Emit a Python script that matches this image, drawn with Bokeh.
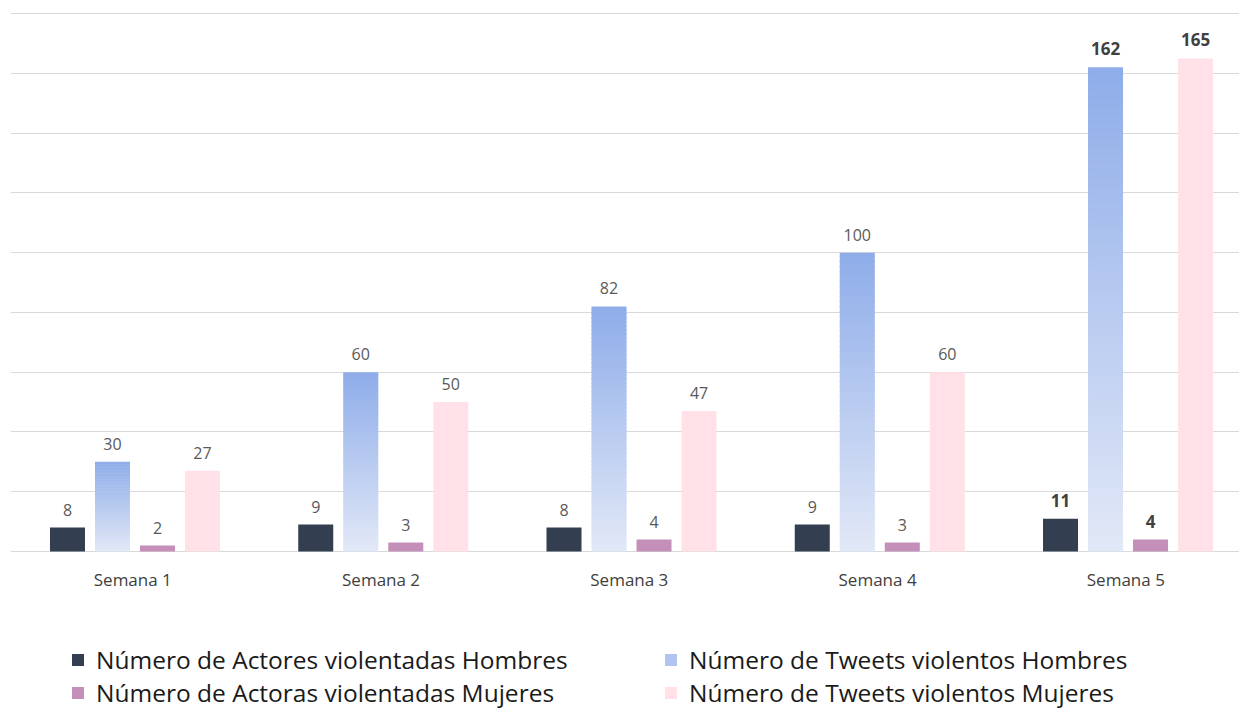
import numpy as np
from bokeh.plotting import figure
from bokeh.models import ColumnDataSource, FixedTicker, Range1d, Legend, LegendItem
from bokeh.embed import file_html
from bokeh.resources import INLINE
from bokeh.core.properties import value

weeks = ["Semana  1", "Semana  2", "Semana  3", "Semana  4", "Semana  5"]
actores_hombres = [8, 9, 8, 9, 11]
tweets_hombres = [30, 60, 82, 100, 162]
actoras_mujeres = [2, 3, 4, 3, 4]
tweets_mujeres = [27, 50, 47, 60, 165]
bold_week = [False, False, False, False, True]

series_names = [
    "Número de Actores violentadas Hombres",
    "Número de Tweets violentos Hombres",
    "Número de Actoras violentadas Mujeres",
    "Número de Tweets violentos Mujeres",
]
series_values = [actores_hombres, tweets_hombres, actoras_mujeres, tweets_mujeres]
series_colors = ["#333f50", None, "#c48fb9", "#ffe1e7"]
grad_top = (0x8e, 0xad, 0xe9)
grad_bottom = (0xe2, 0xe8, 0xf7)

step = 0.1813
bar_w = 0.141
offsets = [-1.5 * step, -0.5 * step, 0.5 * step, 1.5 * step]
xs = np.arange(len(weeks))

# frame spans the whole lower area so the legend can live inside it
p = figure(width=1239, height=710, output_backend="svg", toolbar_location=None,
           x_range=Range1d(-0.5015, 4.449), y_range=Range1d(-53.2, 180.35),
           x_axis_location=None, y_axis_location=None,
           min_border_left=10, min_border_right=0, min_border_top=12, min_border_bottom=0)
p.outline_line_color = None
p.xgrid.visible = False
p.ygrid.ticker = FixedTicker(ticks=list(range(0, 181, 20)))
p.ygrid.grid_line_color = "#d9d9d9"
p.ygrid.grid_line_width = 1

renderers = []
for si, (vals, col, off) in enumerate(zip(series_values, series_colors, offsets)):
    cx = xs + off
    if col is not None:
        src = ColumnDataSource(dict(left=cx - bar_w / 2, right=cx + bar_w / 2,
                                    top=vals, bottom=[0] * len(vals)))
        r = p.quad(left="left", right="right", top="top", bottom="bottom", source=src,
                   fill_color=col, line_color=None)
        renderers.append((r, 0))
    else:
        N = 60
        L, R, B, T, C = [], [], [], [], []
        for x, v in zip(cx, vals):
            for k in range(N):
                f = (k + 0.5) / N
                rgb = tuple(int(round(grad_bottom[j] + (grad_top[j] - grad_bottom[j]) * f)) for j in range(3))
                L.append(x - bar_w / 2)
                R.append(x + bar_w / 2)
                B.append(v * k / N)
                T.append(min(v, v * (k + 1.4) / N))
                C.append("#%02x%02x%02x" % rgb)
        src = ColumnDataSource(dict(left=L, right=R, bottom=B, top=T, color=C))
        r = p.quad(left="left", right="right", top="top", bottom="bottom", source=src,
                   fill_color="color", line_color=None)
        renderers.append((r, 4 * N + int(N * 0.6)))

    lab = ColumnDataSource(dict(
        x=cx, y=vals, t=[str(v) for v in vals],
        style=["bold" if b else "normal" for b in bold_week],
        color=["#404040" if b else "#595959" for b in bold_week],
        size=["17px" if b else "16px" for b in bold_week],
    ))
    p.text(x="x", y="y", text="t", source=lab, text_align="center", text_baseline="bottom",
           y_offset=-12, text_font=value("Open Sans"), text_font_size="size",
           text_font_style="style", text_color="color")

# category labels under the baseline
cat_src = ColumnDataSource(dict(x=xs, y=[0] * len(weeks), t=weeks))
p.text(x="x", y="y", text="t", source=cat_src, text_align="center", text_baseline="middle",
       y_offset=28, text_font=value("Open Sans"), text_font_size="17px", text_color="#404040")

order = [0, 1, 2, 3]
items = [LegendItem(label=series_names[i], renderers=[renderers[i][0]], index=renderers[i][1]) for i in order]
legend = Legend(items=items, location=(60, 1), orientation="horizontal", nrows=2,
                border_line_color=None, background_fill_alpha=0,
                label_text_font="Open Sans", label_text_font_size="24.5px",
                label_text_color="#1a1a1a", glyph_width=15, glyph_height=15,
                label_standoff=11, label_height=31, spacing=-4, label_width=567,
                padding=0, margin=0)
p.add_layout(legend, "center")

open("out.html", "w").write(file_html(p, INLINE))
